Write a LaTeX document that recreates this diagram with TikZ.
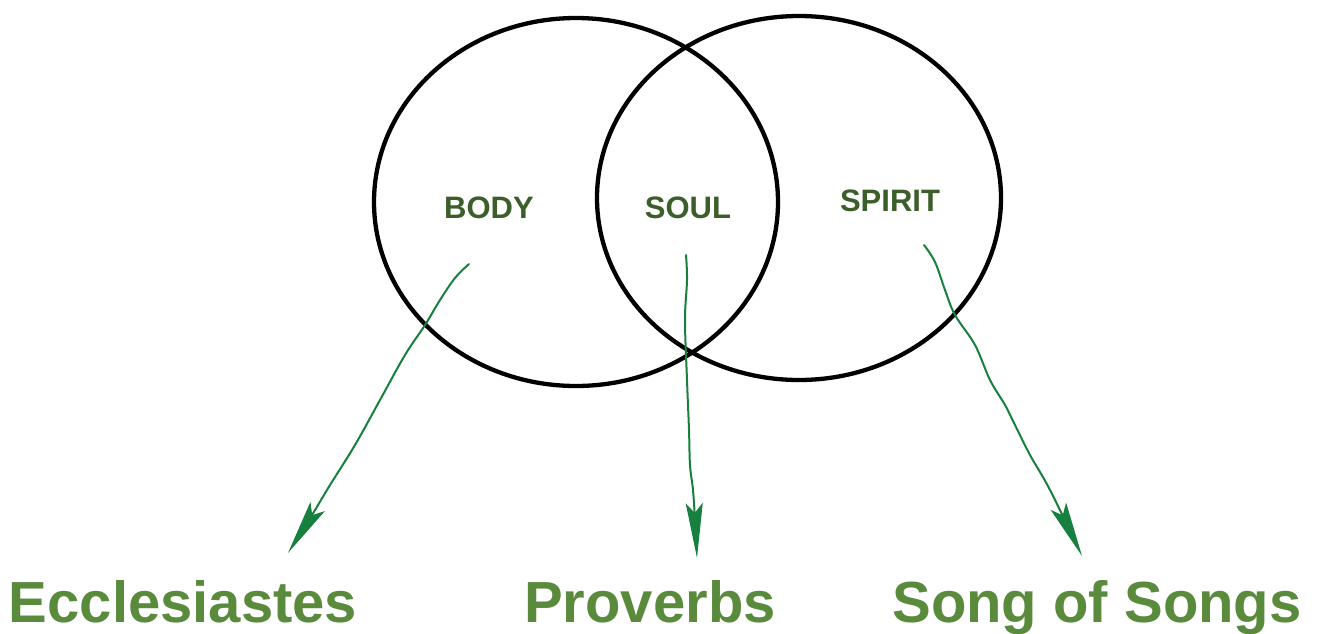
\documentclass[tikz,border=0pt]{standalone}
\usepackage{fontspec}
\setmainfont{Liberation Sans}
\usetikzlibrary{shapes.geometric,arrows.meta}
\definecolor{circleblack}{HTML}{000000}
\definecolor{labeldark}{HTML}{3C5E2A}
\definecolor{booklight}{HTML}{5A8A3B}
\definecolor{arrowgreen}{HTML}{17803E}
\tikzset{
  ring/.style={draw=circleblack, line width=4.3pt, ellipse, inner sep=0pt},
  partlabel/.style={text=labeldark, font=\bfseries\fontsize{31}{36}\selectfont, inner sep=0pt},
  booklabel/.style={text=booklight, font=\bfseries\fontsize{58}{64}\selectfont, inner sep=0pt, anchor=base},
  sketcharrow/.style={draw=arrowgreen, line width=2pt, line cap=round, line join=round,
    -{Stealth[length=55pt,width=17pt,inset=10pt,fill=arrowgreen]}},
}
\begin{document}
\begin{tikzpicture}[x=1pt,y=-1pt]
\useasboundingbox (0,0) rectangle (1317,633);
\node[ring, minimum width=404pt, minimum height=368pt] (bodyc) at (576,202) {};
\node[ring, minimum width=404pt, minimum height=364pt] (spiritc) at (799,198) {};
\node[partlabel] (body) at (489,208) {BODY};
\node[partlabel] (soul) at (688,208) {SOUL};
\node[partlabel] (spirit) at (890,201) {SPIRIT};
\node[booklabel] (eccl) at (183,622) {Ecclesiastes};
\node[booklabel] (prov) at (650,622) {Proverbs};
\node[booklabel] (song) at (1097,622) {Song of Songs};
% arrow start/end points
\coordinate (s1) at (469,264);
\coordinate (e1) at (288,553);
\coordinate (s2) at (686,255);
\coordinate (e2) at (697,558);
\coordinate (s3) at (924,245);
\coordinate (e3) at (1082,556);
\draw[sketcharrow] plot[smooth, tension=0.6] coordinates {(s1) (455,278) (440,300) (425,325) (405,355) (380,400) (355,445) (330,485) (312,515) (e1)};
\draw[sketcharrow] plot[smooth, tension=0.6] coordinates {(s2) (687,280) (685,320) (687,380) (689,430) (690,465) (693,490) (695,520) (e2)};
\draw[sketcharrow] plot[smooth, tension=0.6] coordinates {(s3) (935,262) (945,290) (955,315) (975,345) (990,380) (1005,405) (1015,425) (1030,455) (1050,490) (e3)};
\end{tikzpicture}
\end{document}
